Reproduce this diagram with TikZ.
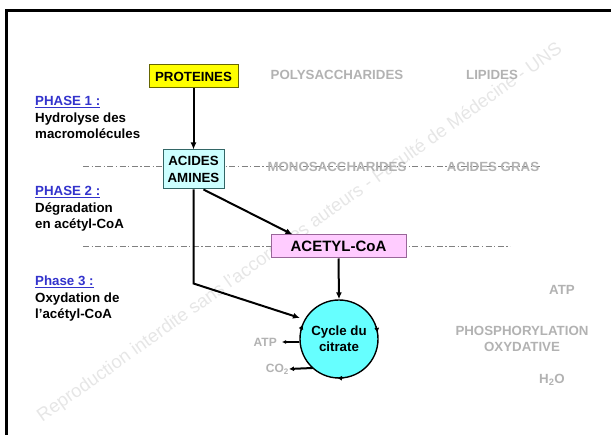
\documentclass[tikz,border=0pt]{standalone}
\usepackage{fontspec}
\setmainfont{Liberation Sans}
\usetikzlibrary{arrows.meta,calc}
\definecolor{phblue}{HTML}{3333CC}
\definecolor{lgray}{HTML}{B2B2B2}
\definecolor{wmgray}{HTML}{E6E6E6}
\definecolor{protfill}{HTML}{FFFF00}
\definecolor{protdraw}{HTML}{666600}
\definecolor{aafill}{HTML}{CCFFFF}
\definecolor{aadraw}{HTML}{336666}
\definecolor{acfill}{HTML}{FFCCFF}
\definecolor{acdraw}{HTML}{996699}
\definecolor{cycfill}{HTML}{66FFFF}
\newcommand\phul[1]{\setbox0\hbox{#1}\rlap{\raisebox{-2.3pt}{\rule{\wd0}{1.2pt}}}\box0}
\begin{document}
\begin{tikzpicture}[x=1pt,y=-1pt,
  txt/.style={font=\fontsize{13.3}{16}\selectfont\bfseries, inner sep=0pt},
  graytxt/.style={txt, text=lgray},
  box/.style={txt, draw, line width=1pt, inner sep=0pt, align=center},
  arr/.style={line width=2pt, -{Latex[length=7pt,width=6pt]}},
  thinarr/.style={line width=1.2pt, -{Latex[length=4pt,width=4pt]}},
  sep/.style={draw=gray, line width=0.6pt, dash pattern=on 6pt off 2.5pt on 1.2pt off 2.5pt},
  phase/.style={txt, anchor=base west, align=left, font=\fontsize{13.3}{16.5}\selectfont\bfseries}
]
\useasboundingbox (0,0) rectangle (611,435);
\node[font=\fontsize{18.5}{18.5}\selectfont, text=wmgray, rotate=35.5, inner sep=0pt] (wm) at (300,233) {Reproduction interdite sans l'accord des auteurs - Faculté de Médecine - UNS};
\draw[line width=3pt] (611,11) -- (6,11) -- (6,435);
\draw[sep] (83,166) -- (540,166);
\draw[sep] (83,246) -- (510,246);
\node[box, fill=protfill, draw=protdraw, minimum width=89, minimum height=23] (pr) at (193.5,76.5) {PROTEINES};
\node[box, fill=aafill, draw=aadraw, minimum width=61, minimum height=39, font=\fontsize{13.3}{17}\selectfont\bfseries] (aa) at (193.5,169.5) {ACIDES\\AMINES};
\node[box, fill=acfill, draw=acdraw, minimum width=135, minimum height=23, font=\fontsize{15}{17}\selectfont\bfseries] (ac) at (338.5,246.5) {ACETYL-CoA};
\node[txt, circle, draw, line width=1.4pt, fill=cycfill, minimum size=78, align=center] (cyc) at (339,339) {Cycle du\\citrate};
\node[graytxt] (poly) at (337,75) {POLYSACCHARIDES};
\node[graytxt] (lip) at (492,75) {LIPIDES};
\node[graytxt] (mono) at (337,167) {MONOSACCHARIDES};
\node[graytxt] (ag) at (493,167) {ACIDES GRAS};
\node[graytxt] (atpR) at (562,290) {ATP};
\node[graytxt, align=center] (phos) at (522,339) {PHOSPHORYLATION\\OXYDATIVE};
\node[graytxt] (h2o) at (552,380) {H\textsubscript{2}O};
\node[graytxt, font=\fontsize{12}{14}\selectfont\bfseries, anchor=east] (atpL) at (277,342) {ATP};
\node[graytxt, font=\fontsize{12}{14}\selectfont\bfseries, anchor=east] (co2) at (289,369) {CO\textsubscript{2}};
\node[phase] (p1) at (35,139) {\textcolor{phblue}{\phul{PHASE 1 :}}\\Hydrolyse des\\macromolécules};
\node[phase] (p2) at (35,229) {\textcolor{phblue}{\phul{PHASE 2 :}}\\Dégradation\\en acétyl-CoA};
\node[phase] (p3) at (35,319) {\textcolor{phblue}{\phul{Phase 3 :}}\\Oxydation de\\l'acétyl-CoA};
\coordinate (c3) at (300,318);
\draw[arr] (pr.south) -- (aa.north);
\draw[arr] ($(aa.south)+(10,0)$) -- ($(ac.north west)+(22,0)$);
\draw[arr] (aa.south) -- ++(0,94) -- (c3);
\draw[arr] (ac.south) -- (cyc.north);
\draw[thinarr, shorten >=5pt] (cyc.west |- atpL.east) -- (atpL.east);
\draw[arr, -{Latex[length=5pt,width=5pt]}] ($(cyc.center)+(132:39)$) -- (co2.east);
\foreach \a in {192,341,83}
  \draw[line width=1.2pt, -{Latex[length=5pt,width=5pt]}] ($(cyc.center)+(\a:39)$) arc[start angle=\a, end angle=\a+10, radius=39];
\end{tikzpicture}
\end{document}
